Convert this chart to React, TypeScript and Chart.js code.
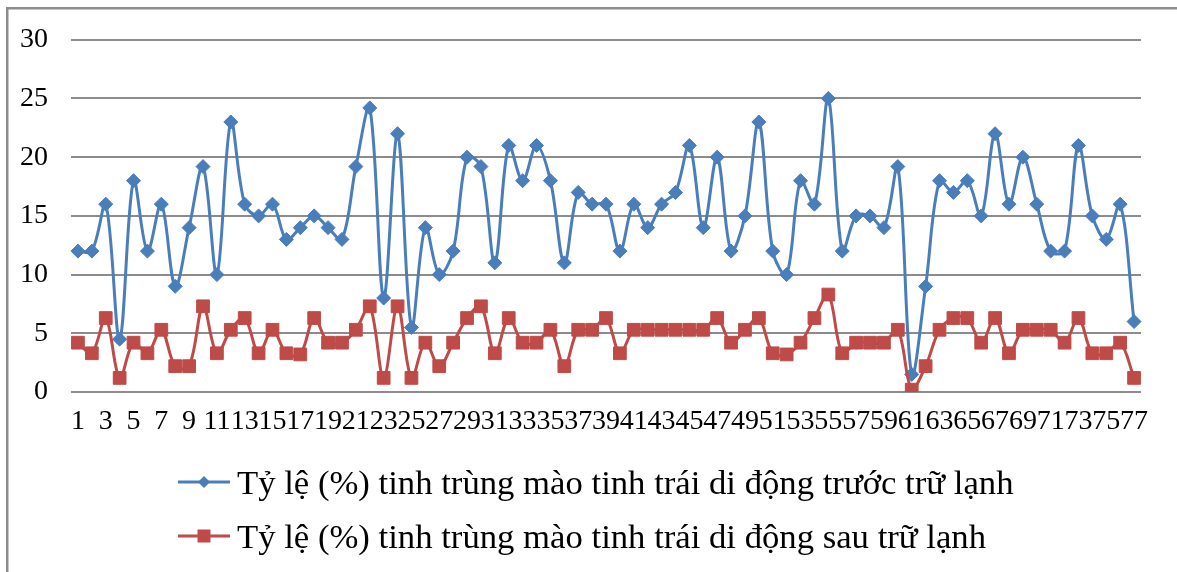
import { useEffect, useRef } from 'react';
import { Chart, registerables } from 'chart.js';

Chart.register(...registerables);

const categories = [
  '1', '2', '3', '4', '5', '6', '7', '8', '9', '10',
  '11', '12', '13', '14', '15', '16', '17', '18', '19', '20',
  '21', '22', '23', '24', '25', '26', '27', '28', '29', '30',
  '31', '32', '33', '34', '35', '36', '37', '38', '39', '40',
  '41', '42', '43', '44', '45', '46', '47', '48', '49', '50',
  '51', '52', '53', '54', '55', '56', '57', '58', '59', '60',
  '61', '62', '63', '64', '65', '66', '67', '68', '69', '70',
  '71', '72', '73', '74', '75', '76', '77',
];

const beforeStorage = [
  12, 12, 16, 4.5, 18, 12, 16, 9, 14, 19.2,
  10, 23, 16, 15, 16, 13, 14, 15, 14, 13,
  19.2, 24.2, 8, 22, 5.5, 14, 10, 12, 20, 19.2,
  11, 21, 18, 21, 18, 11, 17, 16, 16, 12,
  16, 14, 16, 17, 21, 14, 20, 12, 15, 23,
  12, 10, 18, 16, 25, 12, 15, 15, 14, 19.2,
  1.5, 9, 18, 17, 18, 15, 22, 16, 20, 16,
  12, 12, 21, 15, 13, 16, 6,
];

const afterStorage = [
  4.2, 3.3, 6.3, 1.2, 4.2, 3.3, 5.3, 2.2, 2.2, 7.3,
  3.3, 5.3, 6.3, 3.3, 5.3, 3.3, 3.2, 6.3, 4.2, 4.2,
  5.3, 7.3, 1.2, 7.3, 1.2, 4.2, 2.2, 4.2, 6.3, 7.3,
  3.3, 6.3, 4.2, 4.2, 5.3, 2.2, 5.3, 5.3, 6.3, 3.3,
  5.3, 5.3, 5.3, 5.3, 5.3, 5.3, 6.3, 4.2, 5.3, 6.3,
  3.3, 3.2, 4.2, 6.3, 8.3, 3.3, 4.2, 4.2, 4.2, 5.3,
  0.2, 2.2, 5.3, 6.3, 6.3, 4.2, 6.3, 3.3, 5.3, 5.3,
  5.3, 4.2, 6.3, 3.3, 3.3, 4.2, 1.2,
];

const seriesLabels = [
  'Tỷ lệ (%) tinh trùng mào tinh trái di động trước trữ lạnh',
  'Tỷ lệ (%) tinh trùng mào tinh trái di động sau trữ lạnh',
];

const yTicks = [0, 5, 10, 15, 20, 25, 30];

const FONT = "'Liberation Serif', 'Times New Roman', serif";
const BLUE = '#4a7ebb';
const RED = '#be4b48';

const framePlugin = {
  id: 'frame',
  beforeDraw(chart: any) {
    const ctx = chart.ctx;
    ctx.save();
    ctx.fillStyle = '#ffffff';
    ctx.fillRect(0, 0, chart.width, chart.height);
    ctx.fillStyle = '#8d8d8d';
    ctx.fillRect(6, 7, 2.5, chart.height);
    ctx.fillRect(6, 7, chart.width, 2.5);
    ctx.restore();
  },
};

const legendPlugin = {
  id: 'excelLegend',
  afterDraw(chart: any) {
    const ctx = chart.ctx;
    ctx.save();
    chart.data.datasets.forEach((ds: any, i: number) => {
      const y = 482 + i * 54;
      const x0 = 178;
      const x1 = 230;
      const cx = (x0 + x1) / 2;
      ctx.strokeStyle = ds.borderColor;
      ctx.lineWidth = 3;
      ctx.beginPath();
      ctx.moveTo(x0, y);
      ctx.lineTo(x1, y);
      ctx.stroke();
      ctx.fillStyle = ds.backgroundColor;
      ctx.beginPath();
      if (ds.pointStyle === 'rectRot') {
        const r = 6;
        ctx.moveTo(cx, y - r);
        ctx.lineTo(cx + r, y);
        ctx.lineTo(cx, y + r);
        ctx.lineTo(cx - r, y);
        ctx.closePath();
      } else {
        const s = 6.5;
        ctx.rect(cx - s, y - s, 2 * s, 2 * s);
      }
      ctx.fill();
      ctx.fillStyle = '#000000';
      ctx.font = `34.7px ${FONT}`;
      ctx.textAlign = 'left';
      ctx.textBaseline = 'alphabetic';
      ctx.fillText(ds.label, 237, y + 11.5);
    });
    ctx.restore();
  },
};

export default function App() {
  const ref = useRef<HTMLCanvasElement>(null);

  useEffect(() => {
    document.body.style.margin = '0';
    document.body.style.overflow = 'hidden';
    const canvas = ref.current;
    if (!canvas) return;
    const chart = new Chart(canvas, {
      type: 'line',
      data: {
        labels: categories,
        datasets: [
          {
            label: seriesLabels[0],
            data: beforeStorage,
            borderColor: BLUE,
            backgroundColor: BLUE,
            pointBackgroundColor: BLUE,
            pointBorderColor: BLUE,
            pointStyle: 'rectRot',
            pointRadius: 7,
            pointBorderWidth: 1,
            borderWidth: 3,
            tension: 0.35,
            order: 1,
          },
          {
            label: seriesLabels[1],
            data: afterStorage,
            borderColor: RED,
            backgroundColor: RED,
            pointBackgroundColor: RED,
            pointBorderColor: RED,
            pointStyle: 'rect',
            pointRadius: 9,
            pointBorderWidth: 1,
            borderWidth: 3,
            tension: 0.35,
            order: 0,
          },
        ],
      },
      options: {
        responsive: false,
        animation: false,
        events: [],
        layout: { padding: { left: 0, right: 36, top: 37, bottom: 0 } },
        plugins: {
          legend: { display: false },
          tooltip: { enabled: false },
        },
        scales: {
          x: {
            offset: true,
            grid: { display: false, drawTicks: false },
            border: { display: false },
            ticks: {
              autoSkip: false,
              maxRotation: 0,
              minRotation: 0,
              padding: 13,
              color: '#000000',
              font: { family: FONT, size: 28 },
              callback: (_v: any, idx: number) => (idx % 2 === 0 ? categories[idx] : ''),
            },
            afterFit: (s: any) => {
              s.height = 180;
            },
          },
          y: {
            min: yTicks[0],
            max: yTicks[yTicks.length - 1],
            grid: { color: '#8c8c8c', lineWidth: 2, drawTicks: false },
            border: { display: false },
            ticks: {
              stepSize: 5,
              padding: 23,
              color: '#000000',
              font: { family: FONT, size: 28 },
            },
            afterFit: (s: any) => {
              s.width = 71;
            },
          },
        },
      },
      plugins: [framePlugin, legendPlugin],
    });
    return () => chart.destroy();
  }, []);

  return (
    <div style={{ width: 1177, height: 572, position: 'relative' }}>
      <canvas ref={ref} width={1177} height={572} style={{ display: 'block' }} />
    </div>
  );
}
